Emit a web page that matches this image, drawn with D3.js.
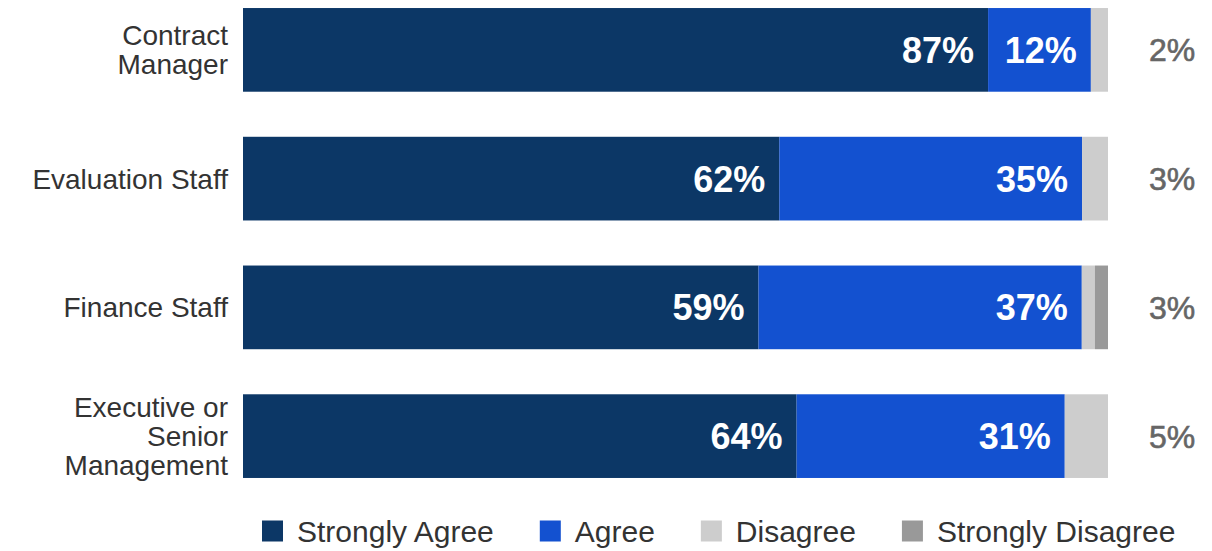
<!DOCTYPE html>
<html>
<head>
  <meta charset="utf-8">
  <title>Agreement by Role</title>
  <style>
  body { margin: 0; background: #fff; }
  .cat-label { font-family: "Liberation Sans", Arial, sans-serif; font-size: 28px; fill: #333; text-anchor: end; }
  .in-label { font-family: "Liberation Sans", Arial, sans-serif; font-size: 36px; font-weight: bold; fill: #fff; text-anchor: end; }
  .out-label { font-family: "Liberation Sans", Arial, sans-serif; font-size: 32px; fill: #666; stroke: #666; stroke-width: 0.6px; text-anchor: middle; }
  .legend-font { font-family: "Liberation Sans", Arial, sans-serif; font-size: 30px; fill: #333; }
  </style>
</head>
<body>
  <div id="chart"></div>
  <script src="https://cdn.jsdelivr.net/npm/d3@7"></script>
  <script>
  // data (percent of respondents)
  var roles = ["Contract Manager", "Evaluation Staff", "Finance Staff", "Executive or Senior Management"];
  var roleLines = [["Contract", "Manager"], ["Evaluation Staff"], ["Finance Staff"], ["Executive or", "Senior", "Management"]];
  var keys = ["Strongly Agree", "Agree", "Disagree", "Strongly Disagree"];
  var stronglyAgree = [87, 62, 59, 64];
  var agree = [12, 35, 37, 31];
  var disagree = [2, 3, 1.5, 5];
  var stronglyDisagree = [0, 0, 1.5, 0];
  var colors = ["#0c3766", "#1351d0", "#cdcdcd", "#999999"];

  var width = 1212, height = 551;

  var dataset = roles.map(function(r, i) {
    return {role: r, "Strongly Agree": stronglyAgree[i], "Agree": agree[i],
            "Disagree": disagree[i], "Strongly Disagree": stronglyDisagree[i]};
  });

  var svg = d3.select("#chart").append("svg")
    .attr("width", width)
    .attr("height", height);

  var color = d3.scaleOrdinal().domain(keys).range(colors);

  // each row stretched to the full bar
  var series = d3.stack().keys(keys).offset(d3.stackOffsetExpand)(dataset);

  var x = d3.scaleLinear().domain([0, 1]).range([243, 1108]);
  var y = d3.scaleBand().domain(roles).range([-14.5, 500.5])
    .paddingInner(0.35).paddingOuter(0.175);

  //draw the bars
  svg.append("g")
    .selectAll("g")
    .data(series)
    .enter().append("g")
    .attr("fill", function(d) { return color(d.key); })
    .selectAll("rect")
    .data(function(d) { return d; })
    .enter().append("rect")
    .attr("x", function(d) { return x(d[0]); })
    .attr("y", function(d) { return y(d.data.role); })
    .attr("width", function(d) { return x(d[1]) - x(d[0]); })
    .attr("height", y.bandwidth());

  //labels inside the two agree segments
  svg.append("g")
    .selectAll("g")
    .data(series.slice(0, 2))
    .enter().append("g")
    .selectAll("text")
    .data(function(d) { return d.map(function(p) { return {p: p, key: d.key}; }); })
    .enter().append("text")
    .attr("class", "in-label")
    .attr("x", function(d) { return x(d.p[1]) - 14; })
    .attr("y", function(d) { return y(d.p.data.role) + y.bandwidth() / 2; })
    .attr("dy", "0.36em")
    .text(function(d) { return d.p.data[d.key] + "%"; });

  //disagree total on the right
  svg.append("g")
    .selectAll("text")
    .data(dataset)
    .enter().append("text")
    .attr("class", "out-label")
    .attr("x", 1172)
    .attr("y", function(d) { return y(d.role) + y.bandwidth() / 2; })
    .attr("dy", "0.36em")
    .text(function(d) { return Math.round(d["Disagree"] + d["Strongly Disagree"]) + "%"; });

  //category labels, possibly on several lines
  var lineH = 29;
  svg.append("g")
    .selectAll("text")
    .data(roles)
    .enter().append("text")
    .attr("class", "cat-label")
    .attr("y", function(d) { return y(d) + y.bandwidth() / 2; })
    .each(function(d, i) {
      var lines = roleLines[i];
      var t = d3.select(this);
      lines.forEach(function(l, j) {
        t.append("tspan")
          .attr("x", 228)
          .attr("dy", j === 0 ? ((-(lines.length - 1) / 2) * lineH / 28 + 0.36) + "em" : lineH + "px")
          .text(l);
      });
    });

  //legend
  var legend = svg.append("g")
    .attr("class", "legend-font")
    .attr("transform", "translate(262,531)");

  var lx = 0;
  keys.forEach(function(k) {
    var g = legend.append("g").attr("transform", "translate(" + lx + ",0)");
    g.append("rect")
      .attr("y", -10.5)
      .attr("width", 21)
      .attr("height", 21)
      .attr("fill", color(k));
    var t = g.append("text")
      .attr("x", 35)
      .attr("dy", "0.36em")
      .text(k);
    lx += 35 + t.node().getComputedTextLength() + 46;
  });
  </script>
</body>
</html>
